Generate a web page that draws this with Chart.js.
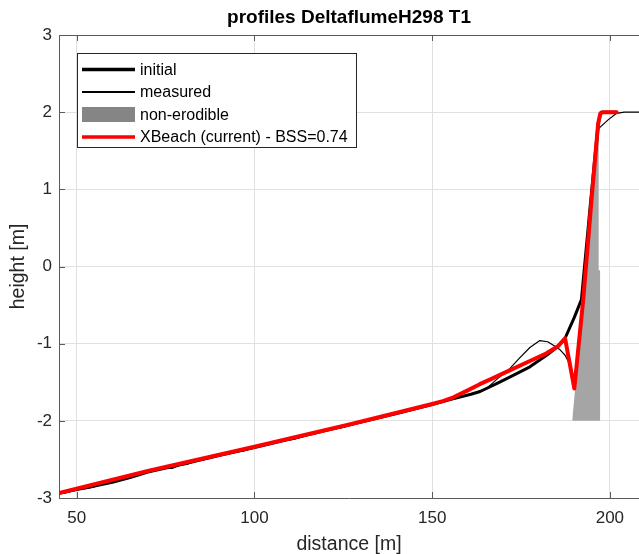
<!DOCTYPE html>
<html>
<head>
<meta charset="utf-8">
<script src="https://cdn.jsdelivr.net/npm/chart.js@4.4.1/dist/chart.umd.min.js"></script>
<style>
    html, body { margin: 0; padding: 0; background: #fff; overflow: hidden; }
    #wrap { width: 639px; height: 554px; }
</style>
</head>
<body>
<div id="wrap"><canvas id="profileChart" width="639" height="554"></canvas></div>
<script>
// axis ranges / ticks
const xMin = 45;
const xMax = 208.2;
const xTicks = [50, 100, 150, 200];
const yTicks = [-3, -2, -1, 0, 1, 2, 3];

// initial profile
const initialX = [45, 50, 55, 60, 65, 70, 80, 90, 100, 110, 120, 130, 140, 150, 155, 160.9, 163.5, 168, 172.8, 177.5, 182.2, 185, 187.4, 190, 192, 194.5, 196.7, 197.5, 201.9];
const initialY = [-2.94, -2.89, -2.845, -2.795, -2.735, -2.665, -2.56, -2.45, -2.345, -2.235, -2.125, -2.015, -1.905, -1.79, -1.725, -1.656, -1.62, -1.52, -1.41, -1.30, -1.15, -1.05, -0.93, -0.66, -0.43, 0.8, 1.85, 2.0, 2.0];

// measured profile
const measuredX = [45, 47, 49, 51, 53, 55, 57, 60, 64, 68, 72, 75, 77, 79, 81, 83, 86, 90, 94, 97, 99, 102, 106, 109, 111, 113, 116, 120, 123, 125, 127, 130, 134, 138, 142, 146, 150, 154, 158, 161, 165.3, 168.5, 171.9, 174.5, 177.5, 180.3, 182.5, 184.1, 186, 187.4, 188.3, 189.3, 190.2, 192.5, 195, 196.9, 199.5, 201.9, 204, 209];
const measuredY = [-2.94, -2.93, -2.905, -2.885, -2.875, -2.855, -2.81, -2.775, -2.725, -2.68, -2.635, -2.615, -2.615, -2.575, -2.565, -2.525, -2.49, -2.445, -2.41, -2.39, -2.36, -2.32, -2.28, -2.255, -2.24, -2.215, -2.17, -2.125, -2.1, -2.085, -2.055, -2.015, -1.97, -1.93, -1.885, -1.835, -1.79, -1.745, -1.69, -1.655, -1.58, -1.45, -1.32, -1.19, -1.05, -0.96, -0.975, -1.02, -1.08, -1.15, -1.23, -1.40, -1.50, -0.45, 0.93, 1.79, 1.9, 1.985, 2.0, 2.0];

// non-erodible layer (filled down to -2)
const nonErodX = [189.4, 191, 193, 195, 196.6, 196.85, 196.85, 197.3, 197.3];
const nonErodY = [-2, -1.2, -0.25, 0.75, 1.72, 1.78, -0.05, -0.05, -2];

// XBeach result
const xbeachX = [45, 70, 100, 127, 150, 153, 156, 160, 163.4, 167, 170, 177.5, 182.2, 185.5, 187.4, 190.0, 192.5, 195.0, 196.7, 197.3, 198.0, 201.9];
const xbeachY = [-2.935, -2.65, -2.335, -2.045, -1.782, -1.745, -1.695, -1.605, -1.525, -1.45, -1.385, -1.224, -1.125, -1.03, -0.93, -1.58, -0.43, 0.95, 1.85, 1.98, 2.0, 2.0];

const fontFamily = "'Liberation Sans', Arial, Helvetica, sans-serif";

function toPoints(xs, ys) {
    return xs.map((x, i) => ({ x: x, y: ys[i] }));
}

// matlab style: box on top, ticks pointing inward
const matlabAxes = {
    id: 'matlabAxes',
    afterDraw(chart) {
        const ctx = chart.ctx;
        const area = chart.chartArea;
        const xs = chart.scales.x;
        const ys = chart.scales.y;
        ctx.save();
        ctx.strokeStyle = '#5a5a5a';
        ctx.lineWidth = 1;
        ctx.beginPath();
        ctx.moveTo(area.left, area.top + 0.5);
        ctx.lineTo(area.right, area.top + 0.5);
        xTicks.forEach(v => {
            const px = Math.round(xs.getPixelForValue(v)) + 0.5;
            ctx.moveTo(px, area.bottom);
            ctx.lineTo(px, area.bottom - 6);
            ctx.moveTo(px, area.top);
            ctx.lineTo(px, area.top + 6);
        });
        yTicks.forEach(v => {
            const py = Math.round(ys.getPixelForValue(v)) + 0.5;
            ctx.moveTo(area.left, py);
            ctx.lineTo(area.left + 6, py);
        });
        ctx.stroke();
        ctx.restore();
    }
};

// legend box in the upper left corner
const legendBox = {
    id: 'legendBox',
    afterDraw(chart) {
        const ctx = chart.ctx;
        const left = 77, top = 53, width = 279, height = 94;
        ctx.save();
        ctx.fillStyle = '#ffffff';
        ctx.fillRect(left, top, width, height);
        ctx.strokeStyle = '#262626';
        ctx.lineWidth = 1;
        ctx.strokeRect(left + 0.5, top + 0.5, width, height);
        ctx.font = '16px ' + fontFamily;
        ctx.textBaseline = 'middle';
        ctx.textAlign = 'left';
        chart.data.datasets.forEach((ds, i) => {
            const cy = 69.5 + i * 22.5;
            if (ds.fill) {
                ctx.fillStyle = ds.legendColor;
                ctx.fillRect(82, cy - 7.5, 53, 15);
            } else {
                ctx.strokeStyle = ds.borderColor;
                ctx.lineWidth = ds.legendWidth;
                ctx.beginPath();
                ctx.moveTo(82, cy);
                ctx.lineTo(135, cy);
                ctx.stroke();
            }
            ctx.fillStyle = '#000000';
            ctx.fillText(ds.label, 140, cy + 1);
        });
        ctx.restore();
    }
};

new Chart(document.getElementById('profileChart').getContext('2d'), {
    type: 'line',
    data: {
        datasets: [{
            label: 'initial',
            data: toPoints(initialX, initialY),
            borderColor: '#000000',
            borderWidth: 3,
            legendWidth: 3.5,
            order: 2
        }, {
            label: 'measured',
            data: toPoints(measuredX, measuredY),
            borderColor: '#000000',
            borderWidth: 1.2,
            legendWidth: 1.8,
            order: 1
        }, {
            label: 'non-erodible',
            data: toPoints(nonErodX, nonErodY),
            borderColor: 'rgba(0,0,0,0)',
            borderWidth: 0,
            backgroundColor: '#a5a5a5',
            legendColor: '#858585',
            fill: { value: -2 },
            order: 3
        }, {
            label: 'XBeach (current) - BSS=0.74',
            data: toPoints(xbeachX, xbeachY),
            borderColor: '#ff0000',
            borderWidth: 4,
            legendWidth: 3.5,
            order: 0
        }]
    },
    options: {
        responsive: false,
        animation: false,
        devicePixelRatio: 1,
        layout: {
            padding: { top: 0, left: 0, right: 0, bottom: 0 }
        },
        elements: {
            point: { radius: 0, hoverRadius: 0 },
            line: { tension: 0, borderJoinStyle: 'round', borderCapStyle: 'round' }
        },
        datasets: {
            line: { clip: 0 }
        },
        plugins: {
            legend: { display: false },
            tooltip: { enabled: false },
            title: {
                display: true,
                text: 'profiles DeltaflumeH298 T1',
                fullSize: false,
                color: '#000000',
                font: { family: fontFamily, size: 19, weight: 'bold', lineHeight: 1.2 },
                padding: { top: 6, bottom: 6.2 }
            }
        },
        scales: {
            x: {
                type: 'linear',
                min: xMin,
                max: xMax,
                afterBuildTicks: scale => { scale.ticks = xTicks.map(v => ({ value: v })); },
                afterFit: scale => { scale.height = 56; },
                grid: { color: '#e0e0e0', drawTicks: false },
                border: { color: '#5a5a5a', width: 1 },
                ticks: {
                    color: '#262626',
                    padding: 10,
                    maxRotation: 0,
                    font: { family: fontFamily, size: 17 }
                },
                title: {
                    display: true,
                    text: 'distance [m]',
                    color: '#262626',
                    font: { family: fontFamily, size: 19.5, lineHeight: 1 },
                    padding: { top: 0, bottom: 0 }
                }
            },
            y: {
                type: 'linear',
                min: -3,
                max: 3,
                afterBuildTicks: scale => { scale.ticks = yTicks.map(v => ({ value: v })); },
                afterFit: scale => { scale.width = 59; },
                grid: { color: '#e0e0e0', drawTicks: false },
                border: { color: '#5a5a5a', width: 1 },
                ticks: {
                    color: '#262626',
                    padding: 7,
                    font: { family: fontFamily, size: 17 }
                },
                title: {
                    display: true,
                    text: 'height [m]',
                    color: '#262626',
                    font: { family: fontFamily, size: 19.5, lineHeight: 1 },
                    padding: { top: 9, bottom: 0 }
                }
            }
        }
    },
    plugins: [matlabAxes, legendBox]
});
</script>
</body>
</html>
